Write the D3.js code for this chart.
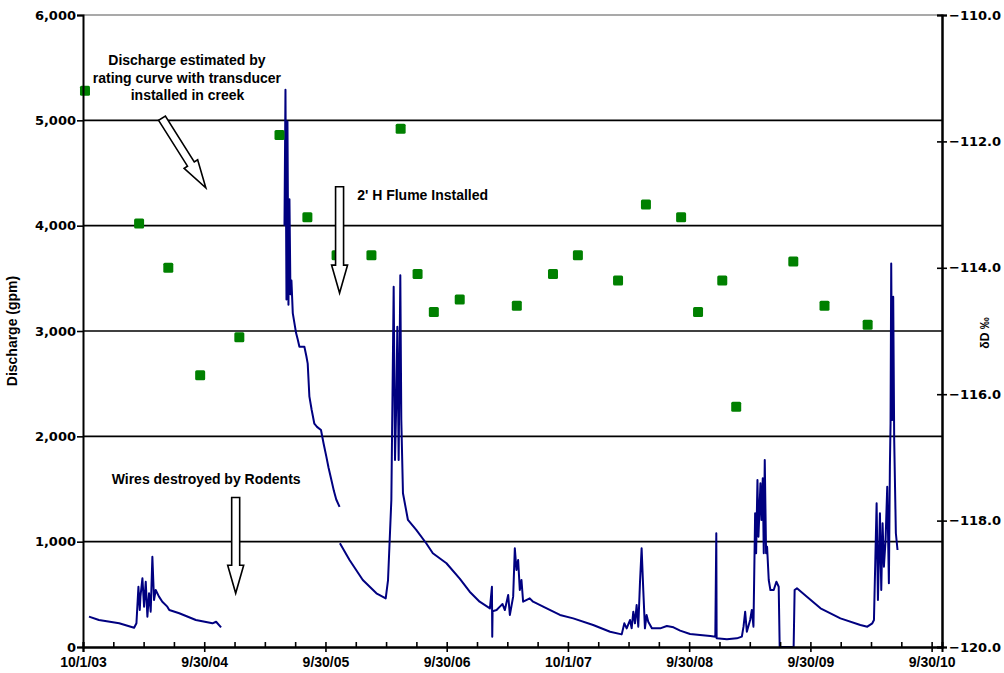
<!DOCTYPE html>
<html>
<head>
<meta charset="utf-8">
<script src="https://cdn.jsdelivr.net/npm/d3@7"></script>
<style>
  body { margin: 0; background: #fff; }
  svg { display: block; }
  .tick text { font-family: "Liberation Sans", Arial, sans-serif; font-weight: bold; fill: #000; }
  .note { font-family: "Liberation Sans", Arial, sans-serif; font-weight: bold; font-size: 14px; fill: #000; }
</style>
</head>
<body>
<script>
// discharge record, [date, gpm]; null marks a gap in the logger record
var flowSeries = [
  ["2003-10-19", 288], ["2003-11-18", 256], ["2004-01-18", 225], ["2004-03-03", 183],
  ["2004-03-10", 225], ["2004-03-16", 572], ["2004-03-20", 351], ["2004-03-22", 478],
  ["2004-03-28", 652], ["2004-04-02", 383], ["2004-04-07", 620], ["2004-04-12", 288],
  ["2004-04-17", 510], ["2004-04-22", 335], ["2004-04-27", 857], ["2004-05-02", 446],
  ["2004-05-07", 541], ["2004-05-17", 478], ["2004-05-27", 430], ["2004-06-11", 383],
  ["2004-06-17", 351], ["2004-07-17", 320], ["2004-09-05", 256], ["2004-10-25", 225],
  ["2004-11-05", 240], ["2004-11-20", 187],
  null,
  ["2005-05-30", 4000], ["2005-06-02", 5290], ["2005-06-05", 3300], ["2005-06-08", 4990],
  ["2005-06-11", 3250], ["2005-06-14", 4250], ["2005-06-17", 3350], ["2005-06-20", 3480],
  ["2005-06-24", 3170], ["2005-07-04", 2980], ["2005-07-09", 2920], ["2005-07-14", 2850],
  ["2005-07-29", 2850], ["2005-08-04", 2760], ["2005-08-08", 2690], ["2005-08-13", 2380],
  ["2005-08-20", 2250], ["2005-08-28", 2120], ["2005-09-05", 2090], ["2005-09-17", 2060],
  ["2005-09-25", 1930], ["2005-10-03", 1810], ["2005-10-10", 1700], ["2005-10-18", 1590],
  ["2005-10-26", 1480], ["2005-11-02", 1400], ["2005-11-12", 1330],
  null,
  ["2005-11-13", 985], ["2005-12-12", 826], ["2006-01-21", 636], ["2006-03-03", 510],
  ["2006-03-31", 462], ["2006-04-07", 636], ["2006-04-12", 1016], ["2006-04-17", 1396],
  ["2006-04-24", 3420], ["2006-04-28", 1775], ["2006-05-02", 2345], ["2006-05-05", 3040],
  ["2006-05-09", 1775], ["2006-05-14", 3530], ["2006-05-17", 2155], ["2006-05-22", 1460],
  ["2006-06-06", 1206], ["2006-07-01", 1111], ["2006-07-31", 985], ["2006-08-20", 890],
  ["2006-09-30", 795], ["2006-11-09", 650], ["2006-12-09", 525], ["2007-01-08", 430],
  ["2007-02-08", 367], ["2007-02-14", 572], ["2007-02-15", 98], ["2007-02-16", 340],
  ["2007-02-28", 351], ["2007-03-10", 383], ["2007-03-18", 408], ["2007-03-25", 351],
  ["2007-04-04", 494], ["2007-04-09", 304], ["2007-04-19", 478], ["2007-04-24", 937],
  ["2007-04-29", 731], ["2007-05-04", 826], ["2007-05-09", 541], ["2007-05-14", 636],
  ["2007-05-19", 430], ["2007-06-08", 462], ["2007-06-18", 430], ["2007-07-29", 367],
  ["2007-09-07", 304], ["2007-10-17", 272], ["2007-12-16", 209], ["2008-02-05", 145],
  ["2008-03-11", 120], ["2008-03-19", 225], ["2008-03-26", 177], ["2008-04-05", 256],
  ["2008-04-10", 177], ["2008-04-15", 335], ["2008-04-20", 225], ["2008-04-25", 399],
  ["2008-04-30", 193], ["2008-05-05", 605], ["2008-05-10", 937], ["2008-05-15", 541],
  ["2008-05-20", 177], ["2008-05-25", 304], ["2008-05-30", 240], ["2008-06-10", 177],
  ["2008-07-05", 177], ["2008-07-25", 199], ["2008-08-14", 187], ["2008-09-03", 155],
  ["2008-10-03", 123], ["2008-11-02", 114], ["2008-12-03", 104], ["2008-12-18", 98],
  ["2008-12-21", 1080], ["2008-12-22", 82], ["2009-01-22", 73], ["2009-02-21", 82],
  ["2009-03-08", 98], ["2009-03-13", 193], ["2009-03-18", 335], ["2009-03-23", 145],
  ["2009-04-02", 256], ["2009-04-07", 351], ["2009-04-12", 193], ["2009-04-17", 1269],
  ["2009-04-20", 890], ["2009-04-24", 1585], ["2009-04-27", 1047], ["2009-05-03", 1554],
  ["2009-05-06", 1206], ["2009-05-10", 1601], ["2009-05-13", 890], ["2009-05-16", 1775],
  ["2009-05-20", 890], ["2009-05-23", 952], ["2009-05-28", 636], ["2009-06-02", 541],
  ["2009-06-12", 541], ["2009-06-20", 620], ["2009-06-27", 572], ["2009-06-30", 0],
  ["2009-08-11", 0], ["2009-08-14", 541], ["2009-08-21", 557], ["2009-09-20", 478],
  ["2009-10-31", 367], ["2009-12-30", 272], ["2010-02-28", 209], ["2010-03-21", 193],
  ["2010-04-05", 225], ["2010-04-10", 256], ["2010-04-15", 952], ["2010-04-18", 1364],
  ["2010-04-22", 446], ["2010-04-28", 1269], ["2010-05-02", 541], ["2010-05-06", 1174],
  ["2010-05-10", 762], ["2010-05-15", 1016], ["2010-05-20", 1522], ["2010-05-25", 605],
  ["2010-05-28", 1712], ["2010-05-30", 2124], ["2010-06-01", 3640], ["2010-06-04", 2155],
  ["2010-06-07", 3326], ["2010-06-10", 1965], ["2010-06-15", 1080], ["2010-06-20", 921]
];

// deuterium samples
var isoDates = ["2003-10-07", "2004-03-18", "2004-06-14", "2004-09-18", "2005-01-14",
  "2005-05-15", "2005-08-07", "2005-11-03", "2006-02-16", "2006-05-15", "2006-07-05",
  "2006-08-23", "2006-11-09", "2007-04-30", "2007-08-17", "2007-10-31", "2008-02-29",
  "2008-05-23", "2008-09-06", "2008-10-27", "2009-01-08", "2009-02-19", "2009-08-10",
  "2009-11-12", "2010-03-22"];
var isoValues = [-111.2, -113.3, -114.0, -115.7, -115.1, -111.9, -113.2, -113.8, -113.8,
  -111.8, -114.1, -114.7, -114.5, -114.6, -114.1, -113.8, -114.2, -113.0, -113.2,
  -114.7, -114.2, -116.2, -113.9, -114.6, -114.9];

var xTickLabels = ["10/1/03", "9/30/04", "9/30/05", "9/30/06", "10/1/07", "9/30/08", "9/30/09", "9/30/10"];
var flowTicks = [0, 1000, 2000, 3000, 4000, 5000, 6000];
var isoTicks = [-120, -118, -116, -114, -112, -110];

// text notes and hollow arrows, anchored in data units
var notes = [
  {date: "2004-08-09", v: 5525, text: "Discharge  estimated by", anchor: "middle"},
  {date: "2004-08-09", v: 5354, text: "rating curve with transducer", anchor: "middle"},
  {date: "2004-08-11", v: 5193, text: "installed in creek", anchor: "middle"},
  {date: "2006-01-04", v: 4244, text: "2' H Flume Installed", anchor: "start"},
  {date: "2004-10-06", v: 1548, text: "Wires destroyed by Rodents", anchor: "middle"}
];
var arrows = [
  {from: ["2004-05-26", 5020], to: ["2004-10-05", 4360]},
  {from: ["2005-11-12", 4370], to: ["2005-11-12", 3360]},
  {from: ["2005-01-03", 1420], to: ["2005-01-03", 510]}
];

var margin = {top: 15, right: 62, bottom: 26, left: 83},
    width = 1004 - margin.left - margin.right,
    height = 673 - margin.top - margin.bottom;

var parse = d3.utcParse("%Y-%m-%d");
var dayMs = 864e5;
var t0 = Date.UTC(2003, 9, 1);

var svg = d3.select("body").append("svg")
    .attr("width", 1004)
    .attr("height", 673)
  .append("g")
    .attr("transform", "translate(" + margin.left + "," + margin.top + ")");

var x = d3.scaleUtc()
    .domain([new Date(t0), parse("2010-11-01")])
    .range([0, width]);

var y = d3.scaleLinear().domain([0, 6000]).range([height, 0]);
var y2 = d3.scaleLinear().domain([-120, -110]).range([height, 0]);

// excel style date axis: 365.25 day major unit, quarter minor unit
var majorTicks = d3.range(8).map(function(i) { return new Date(t0 + i * 365.25 * dayMs); });
var minorTicks = d3.range(29).map(function(i) { return new Date(t0 + i * 365.25 / 4 * dayMs); })
    .filter(function(d) { return d <= x.domain()[1]; });

// gridlines
svg.append("g")
  .selectAll("line")
  .data(flowTicks.filter(function(d) { return d > 0; }))
  .enter().append("line")
    .attr("x1", 0).attr("x2", width)
    .attr("y1", function(d) { return y(d); })
    .attr("y2", function(d) { return y(d); })
    .attr("stroke", function(d) { return d == 6000 ? "#8c8c8c" : "#000"; })
    .attr("stroke-width", 1.6);

// discharge line
var pts = flowSeries.map(function(d) { return d ? {date: parse(d[0]), v: d[1]} : null; });
var line = d3.line()
    .defined(function(d) { return d !== null; })
    .x(function(d) { return x(d.date); })
    .y(function(d) { return y(d.v); });

svg.append("path")
    .datum(pts)
    .attr("fill", "none")
    .attr("stroke", "#000080")
    .attr("stroke-width", 2)
    .attr("stroke-linejoin", "round")
    .attr("d", line);

// isotope squares
svg.append("g")
  .selectAll("rect")
  .data(isoDates)
  .enter().append("rect")
    .attr("x", function(d) { return x(parse(d)) - 5; })
    .attr("y", function(d, i) { return y2(isoValues[i]) - 5; })
    .attr("width", 10)
    .attr("height", 10)
    .attr("rx", 1.5)
    .attr("fill", "#008000");

// axes
var gx = svg.append("g")
    .attr("transform", "translate(0," + height + ")");
gx.append("g")
    .call(d3.axisBottom(x).tickValues(minorTicks).tickSize(-5).tickFormat(""));
gx.append("g")
    .call(d3.axisBottom(x).tickValues(majorTicks).tickSize(5).tickPadding(5)
      .tickFormat(function(d, i) { return xTickLabels[i]; }))
    .selectAll("text").style("font-size", "14px");

svg.append("g")
    .call(d3.axisLeft(y).tickValues(flowTicks).tickSize(6).tickPadding(1).tickFormat(d3.format(",")))
    .selectAll("text").style("font-family", "DejaVu Sans").style("font-size", "13px");

var gr = svg.append("g").attr("transform", "translate(" + width + ",0)");
gr.append("g")
    .call(d3.axisRight(y2).tickValues(isoTicks).tickSize(-5).tickFormat(""));
gr.append("g")
    .call(d3.axisRight(y2).tickValues(isoTicks).tickSize(5).tickPadding(2).tickFormat(d3.format(".1f")))
    .selectAll("text").style("font-family", "DejaVu Sans").style("font-size", "13px");

svg.selectAll(".domain").attr("stroke", "#000").attr("stroke-width", 2);
svg.selectAll(".tick line").attr("stroke", "#000").attr("stroke-width", 1.6);

// axis titles
svg.append("text")
    .attr("class", "note")
    .attr("transform", "translate(" + (-66) + "," + (height / 2) + ") rotate(-90)")
    .attr("text-anchor", "middle")
    .style("font-size", "14px")
    .text("Discharge (gpm)");

svg.append("text")
    .attr("class", "note")
    .attr("transform", "translate(" + (width + 47) + "," + (height / 2 + 2) + ") rotate(-90)")
    .attr("text-anchor", "middle")
    .style("font-size", "12px")
    .text("δD ‰");

// annotations
svg.append("g")
  .selectAll("text")
  .data(notes)
  .enter().append("text")
    .attr("class", "note")
    .attr("x", function(d) { return x(parse(d.date)); })
    .attr("y", function(d) { return y(d.v); })
    .attr("text-anchor", function(d) { return d.anchor; })
    .text(function(d) { return d.text; });

function hollowArrow(a) {
  var x1 = x(parse(a.from[0])), y1 = y(a.from[1]),
      x2 = x(parse(a.to[0])), y2p = y(a.to[1]);
  var len = Math.hypot(x2 - x1, y2p - y1),
      ux = (x2 - x1) / len, uy = (y2p - y1) / len,
      nx = -uy, ny = ux,
      sw = 4, hw = 8, hl = 28;
  var bx = x2 - ux * hl, by = y2p - uy * hl;
  var p = [
    [x1 + nx * sw, y1 + ny * sw],
    [bx + nx * sw, by + ny * sw],
    [bx + nx * hw, by + ny * hw],
    [x2, y2p],
    [bx - nx * hw, by - ny * hw],
    [bx - nx * sw, by - ny * sw],
    [x1 - nx * sw, y1 - ny * sw]
  ];
  return p.map(function(q) { return q.join(","); }).join(" ");
}

svg.append("g")
  .selectAll("polygon")
  .data(arrows)
  .enter().append("polygon")
    .attr("points", hollowArrow)
    .attr("fill", "#fff")
    .attr("stroke", "#000")
    .attr("stroke-width", 1.6);
</script>
</body>
</html>
